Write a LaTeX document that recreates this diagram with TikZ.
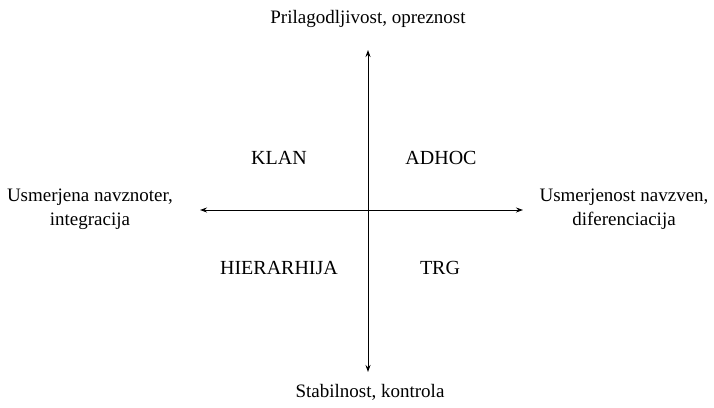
\documentclass[tikz,border=0pt]{standalone}
\usepackage{fontspec}
\setmainfont{Liberation Serif}
\usetikzlibrary{arrows.meta}
\begin{document}
\begin{tikzpicture}[x=1pt,y=-1pt,
  lbl/.style={font=\fontsize{19}{24}\selectfont, align=center, inner sep=0pt},
  qlbl/.style={font=\fontsize{20}{24}\selectfont, align=center, inner sep=0pt},
  axis/.style={line width=0.9pt, -{Stealth[length=7pt,width=5pt]}}]
\useasboundingbox (0,0) rectangle (714,407);
\coordinate (o) at (368,210);
\coordinate (n) at (368,50);
\coordinate (s) at (368,372);
\coordinate (w) at (200,210);
\coordinate (e) at (523,210);
\draw[axis] (o) -- (n);
\draw[axis] (o) -- (s);
\draw[axis] (o) -- (w);
\draw[axis] (o) -- (e);
\node[lbl] (top) at (368,19) {Prilagodljivost, opreznost};
\node[lbl] (bot) at (370,392) {Stabilnost, kontrola};
\node[lbl] (left) at (90,209) {Usmerjena navznoter,\\integracija};
\node[lbl] (right) at (624,209) {Usmerjenost navzven,\\diferenciacija};
\node[qlbl] (klan) at (279,158) {KLAN};
\node[qlbl] (adhoc) at (441,158) {ADHOC};
\node[qlbl] (hier) at (279,268) {HIERARHIJA};
\node[qlbl] (trg) at (440,268) {TRG};
\end{tikzpicture}
\end{document}
